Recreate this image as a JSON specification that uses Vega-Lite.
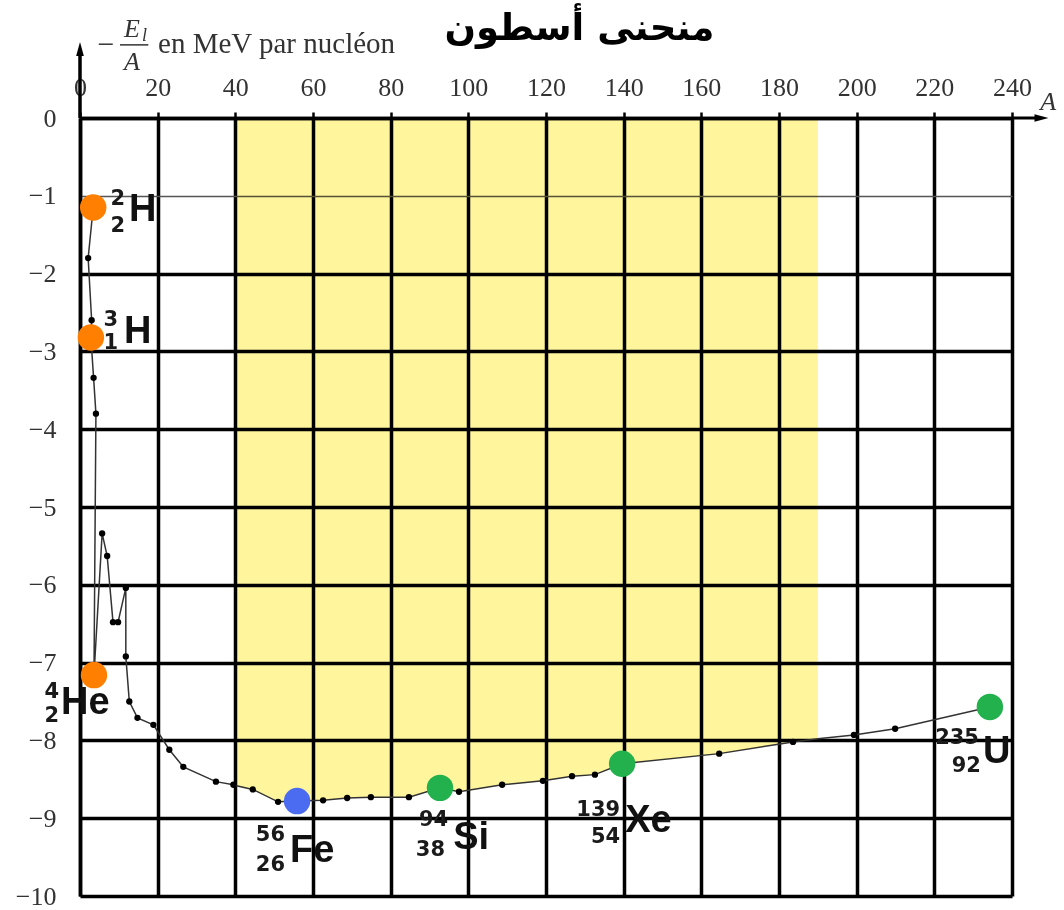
{
  "$schema": "https://vega.github.io/schema/vega-lite/v6.json",
  "width": 932,
  "height": 778,
  "autosize": "none",
  "padding": {"left": 80, "top": 118, "right": 52, "bottom": 14},
  "background": "white",
  "config": {"view": {"stroke": null}},
  "datasets": {
    "curve": [
      {"order": 1, "A": 3.4, "E": -1.15, "kind": "nuclide"},
      {"order": 2, "A": 2.1, "E": -1.8, "kind": "dot"},
      {"order": 3, "A": 3.0, "E": -2.6, "kind": "dot"},
      {"order": 4, "A": 2.8, "E": -2.82, "kind": "nuclide"},
      {"order": 5, "A": 3.5, "E": -3.34, "kind": "dot"},
      {"order": 6, "A": 4.1, "E": -3.8, "kind": "dot"},
      {"order": 7, "A": 3.6, "E": -7.16, "kind": "nuclide"},
      {"order": 8, "A": 5.7, "E": -5.34, "kind": "dot"},
      {"order": 9, "A": 7.0, "E": -5.63, "kind": "dot"},
      {"order": 10, "A": 8.5, "E": -6.48, "kind": "dot"},
      {"order": 11, "A": 9.8, "E": -6.48, "kind": "dot"},
      {"order": 12, "A": 11.8, "E": -6.04, "kind": "dot"},
      {"order": 13, "A": 11.8, "E": -6.92, "kind": "dot"},
      {"order": 14, "A": 12.7, "E": -7.5, "kind": "dot"},
      {"order": 15, "A": 14.8, "E": -7.71, "kind": "dot"},
      {"order": 16, "A": 18.9, "E": -7.8, "kind": "dot"},
      {"order": 17, "A": 23.0, "E": -8.12, "kind": "dot"},
      {"order": 18, "A": 26.6, "E": -8.34, "kind": "dot"},
      {"order": 19, "A": 35.0, "E": -8.53, "kind": "dot"},
      {"order": 20, "A": 39.5, "E": -8.57, "kind": "dot"},
      {"order": 21, "A": 40.0, "E": -8.58, "kind": "edge"},
      {"order": 22, "A": 44.5, "E": -8.63, "kind": "dot"},
      {"order": 23, "A": 51.0, "E": -8.79, "kind": "dot"},
      {"order": 24, "A": 55.9, "E": -8.78, "kind": "nuclide"},
      {"order": 25, "A": 62.6, "E": -8.77, "kind": "dot"},
      {"order": 26, "A": 68.8, "E": -8.74, "kind": "dot"},
      {"order": 27, "A": 74.9, "E": -8.73, "kind": "dot"},
      {"order": 28, "A": 84.7, "E": -8.73, "kind": "dot"},
      {"order": 29, "A": 92.7, "E": -8.61, "kind": "nuclide"},
      {"order": 30, "A": 97.6, "E": -8.66, "kind": "dot"},
      {"order": 31, "A": 108.7, "E": -8.57, "kind": "dot"},
      {"order": 32, "A": 119.2, "E": -8.52, "kind": "dot"},
      {"order": 33, "A": 126.7, "E": -8.46, "kind": "dot"},
      {"order": 34, "A": 132.6, "E": -8.44, "kind": "dot"},
      {"order": 35, "A": 139.6, "E": -8.3, "kind": "nuclide"},
      {"order": 36, "A": 164.6, "E": -8.17, "kind": "dot"},
      {"order": 37, "A": 183.6, "E": -8.02, "kind": "dot"},
      {"order": 38, "A": 190.0, "E": -7.98, "kind": "edge"},
      {"order": 39, "A": 199.3, "E": -7.93, "kind": "dot"},
      {"order": 40, "A": 209.9, "E": -7.85, "kind": "dot"},
      {"order": 41, "A": 234.3, "E": -7.57, "kind": "nuclide"}
    ],
    "nuclides": [
      {"name": "H2", "A": 3.4, "E": -1.15, "group": "light"},
      {"name": "H3", "A": 2.8, "E": -2.82, "group": "light"},
      {"name": "He4", "A": 3.6, "E": -7.16, "group": "light"},
      {"name": "Fe56", "A": 55.9, "E": -8.78, "group": "iron"},
      {"name": "Si94", "A": 92.7, "E": -8.61, "group": "heavy"},
      {"name": "Xe139", "A": 139.6, "E": -8.3, "group": "heavy"},
      {"name": "U235", "A": 234.3, "E": -7.57, "group": "heavy"}
    ],
    "labels": [
      {"role": "number", "text": "2", "A": 11.6, "E": -1.035},
      {"role": "number", "text": "2", "A": 11.6, "E": -1.39},
      {"role": "symbol", "text": "H", "A": 12.6, "E": -1.18},
      {"role": "number", "text": "3", "A": 9.8, "E": -2.59},
      {"role": "number", "text": "1", "A": 9.8, "E": -2.89},
      {"role": "symbol", "text": "H", "A": 11.3, "E": -2.75},
      {"role": "number", "text": "4", "A": -5.4, "E": -7.38},
      {"role": "number", "text": "2", "A": -5.4, "E": -7.69},
      {"role": "symbol", "text": "He", "A": -4.9, "E": -7.52},
      {"role": "number", "text": "56", "A": 52.8, "E": -9.22},
      {"role": "number", "text": "26", "A": 52.8, "E": -9.6},
      {"role": "symbol", "text": "Fe", "A": 54.1, "E": -9.42},
      {"role": "number", "text": "94", "A": 94.8, "E": -9.02},
      {"role": "number", "text": "38", "A": 94.0, "E": -9.41},
      {"role": "symbol", "text": "Si", "A": 96.1, "E": -9.25},
      {"role": "number", "text": "139", "A": 139.1, "E": -8.9},
      {"role": "number", "text": "54", "A": 139.1, "E": -9.24},
      {"role": "symbol", "text": "Xe", "A": 140.4, "E": -9.04},
      {"role": "number", "text": "235", "A": 231.5, "E": -7.97},
      {"role": "number", "text": "92", "A": 232.0, "E": -8.33},
      {"role": "symbol", "text": "U", "A": 232.5, "E": -8.15}
    ]
  },
  "layer": [
    {
      "data": {"name": "curve"},
      "transform": [{"filter": "datum.A >= 40 && datum.A <= 190"}],
      "mark": {"type": "area", "color": "#FFF59D", "opacity": 1, "blend": "multiply"},
      "encoding": {
        "x": {
          "field": "A", "type": "quantitative",
          "scale": {"domain": [0, 240], "nice": false, "zero": false},
          "axis": {
            "orient": "top", "title": null, "format": "d",
            "values": [0, 20, 40, 60, 80, 100, 120, 140, 160, 180, 200, 220, 240],
            "grid": true, "gridColor": "black", "gridWidth": 3.5, "gridOpacity": 1,
            "domain": true, "domainColor": "black", "domainWidth": 3.5,
            "ticks": true, "tickColor": "black", "tickWidth": 2.5, "tickSize": 6,
            "labelFont": "Liberation Serif", "labelFontSize": 26, "labelColor": "#333",
            "labelBaseline": "alphabetic", "labelPadding": 17, "labelFlush": false, "labelOverlap": false
          }
        },
        "y": {
          "field": "E", "type": "quantitative",
          "scale": {"domain": [-10, 0], "nice": false, "zero": false},
          "axis": {
            "orient": "left", "title": null, "format": "d",
            "values": [-10, -9, -8, -7, -6, -5, -4, -3, -2, -1, 0],
            "grid": true,
            "gridColor": {"condition": {"test": "datum.value == -1", "value": "#555555"}, "value": "black"},
            "gridWidth": {"condition": {"test": "datum.value == -1", "value": 1.5}, "value": 3.5},
            "gridOpacity": 1,
            "domain": true, "domainColor": "black", "domainWidth": 3.5,
            "ticks": false,
            "labelFont": "Liberation Serif", "labelFontSize": 26, "labelColor": "#333",
            "labelPadding": 24, "labelFlush": false, "labelOverlap": false
          }
        },
        "y2": {"datum": 0}
      }
    },
    {
      "data": {"name": "curve"},
      "mark": {"type": "line", "color": "#333333", "strokeWidth": 1.5},
      "encoding": {
        "x": {"field": "A", "type": "quantitative"},
        "y": {"field": "E", "type": "quantitative"},
        "order": {"field": "order", "type": "quantitative"}
      }
    },
    {
      "data": {"name": "curve"},
      "transform": [{"filter": "datum.kind == 'dot'"}],
      "mark": {"type": "circle", "color": "black", "size": 40, "opacity": 1},
      "encoding": {
        "x": {"field": "A", "type": "quantitative"},
        "y": {"field": "E", "type": "quantitative"}
      }
    },
    {
      "data": {"name": "nuclides"},
      "mark": {"type": "circle", "size": 700, "opacity": 1},
      "encoding": {
        "x": {"field": "A", "type": "quantitative"},
        "y": {"field": "E", "type": "quantitative"},
        "color": {"field": "group", "type": "nominal", "legend": null,
          "scale": {"domain": ["light", "iron", "heavy"], "range": ["#FF7F00", "#4B6BF0", "#22B14C"]}}
      }
    },
    {
      "data": {"name": "labels"},
      "transform": [{"filter": "datum.role == 'number'"}],
      "mark": {"type": "text", "font": "DejaVu Sans", "fontWeight": "bold", "fontSize": 21, "align": "right", "baseline": "middle", "color": "#1a1a1a"},
      "encoding": {
        "x": {"field": "A", "type": "quantitative"},
        "y": {"field": "E", "type": "quantitative"},
        "text": {"field": "text"}
      }
    },
    {
      "data": {"name": "labels"},
      "transform": [{"filter": "datum.role == 'symbol'"}],
      "mark": {"type": "text", "font": "Liberation Sans", "fontWeight": "bold", "fontSize": 38, "align": "left", "baseline": "middle", "color": "#111111"},
      "encoding": {
        "x": {"field": "A", "type": "quantitative"},
        "y": {"field": "E", "type": "quantitative"},
        "text": {"field": "text"}
      }
    },
    {
      "data": {"values": [{}]},
      "mark": {"type": "rule", "color": "black", "strokeWidth": 3.5},
      "encoding": {"x": {"datum": 0}, "y": {"datum": 0}, "y2": {"datum": 0.86}}
    },
    {
      "data": {"values": [{}]},
      "mark": {"type": "point", "shape": "M-0.55,1L0,-1L0.55,1Z", "size": 196, "filled": true, "color": "black", "opacity": 1},
      "encoding": {"x": {"datum": 0}, "y": {"datum": 0.887}}
    },
    {
      "data": {"values": [{}]},
      "mark": {"type": "rule", "color": "black", "strokeWidth": 3},
      "encoding": {"x": {"datum": 240}, "x2": {"datum": 246.5}, "y": {"datum": 0}}
    },
    {
      "data": {"values": [{}]},
      "mark": {"type": "point", "shape": "M-1,-0.55L1,0L-1,0.55Z", "size": 196, "filled": true, "color": "black", "opacity": 1},
      "encoding": {"x": {"datum": 247.6}, "y": {"datum": 0}}
    },
    {
      "data": {"values": [{}]},
      "mark": {"type": "text", "text": "A", "font": "Liberation Serif", "fontStyle": "italic", "fontSize": 26, "align": "center", "baseline": "middle", "color": "#333"},
      "encoding": {"x": {"datum": 249.3}, "y": {"datum": 0.21}}
    },
    {
      "data": {"values": [{}]},
      "mark": {"type": "text", "text": "−", "font": "Liberation Serif", "fontSize": 30, "align": "center", "baseline": "middle", "color": "#333"},
      "encoding": {"x": {"datum": 6.7}, "y": {"datum": 0.94}}
    },
    {
      "data": {"values": [{}]},
      "mark": {"type": "text", "text": "E", "font": "Liberation Serif", "fontStyle": "italic", "fontSize": 26, "align": "center", "baseline": "middle", "color": "#333"},
      "encoding": {"x": {"datum": 13.4}, "y": {"datum": 1.14}}
    },
    {
      "data": {"values": [{}]},
      "mark": {"type": "text", "text": "l", "font": "Liberation Serif", "fontStyle": "italic", "fontSize": 18, "align": "center", "baseline": "middle", "color": "#333"},
      "encoding": {"x": {"datum": 16.6}, "y": {"datum": 1.05}}
    },
    {
      "data": {"values": [{}]},
      "mark": {"type": "rule", "color": "#333", "strokeWidth": 1.5},
      "encoding": {"x": {"datum": 10.3}, "x2": {"datum": 17.6}, "y": {"datum": 0.94}}
    },
    {
      "data": {"values": [{}]},
      "mark": {"type": "text", "text": "A", "font": "Liberation Serif", "fontStyle": "italic", "fontSize": 26, "align": "center", "baseline": "middle", "color": "#333"},
      "encoding": {"x": {"datum": 13.4}, "y": {"datum": 0.72}}
    },
    {
      "data": {"values": [{}]},
      "mark": {"type": "text", "text": "en MeV par nucléon", "font": "Liberation Serif", "fontSize": 29, "align": "left", "baseline": "alphabetic", "color": "#333"},
      "encoding": {"x": {"datum": 20.1}, "y": {"datum": 0.835}}
    },
    {
      "data": {"values": [{}]},
      "mark": {"type": "text", "text": "منحنى أسطون", "font": "DejaVu Sans", "fontWeight": "bold", "fontSize": 37, "align": "center", "baseline": "middle", "color": "black"},
      "encoding": {"x": {"datum": 128.6}, "y": {"datum": 1.15}}
    }
  ]
}
